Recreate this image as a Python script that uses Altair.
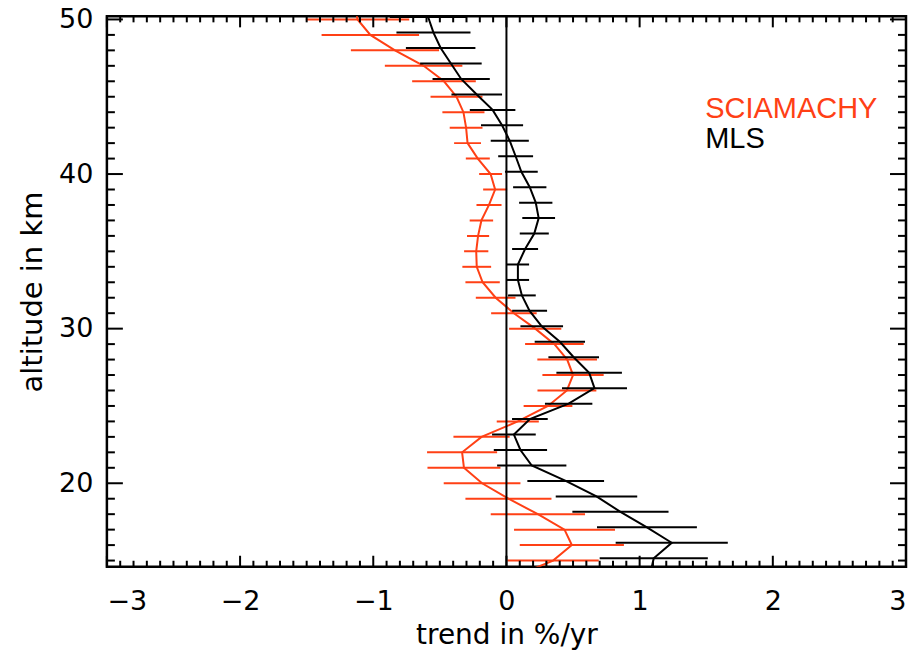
import altair as alt
import numpy as np
import pandas as pd

# ---------------- data ----------------
sci_alt = [51, 50, 49, 48, 47, 46, 45, 44, 43, 42, 41, 40, 39, 38, 37, 36, 35, 34, 33, 32,
           31, 30, 29, 28, 27, 26, 25, 24, 23, 22, 21, 20, 19, 18, 17, 16, 15, 14]
sci_trend = [-1.14, -1.118, -1.022, -0.837, -0.622, -0.469, -0.375, -0.323, -0.303, -0.292,
             -0.215, -0.119, -0.085, -0.131, -0.188, -0.213, -0.227, -0.223, -0.179, -0.081,
             0.056, 0.216, 0.36, 0.456, 0.5, 0.454, 0.312, 0.085, -0.187, -0.333,
             -0.319, -0.183, 0.015, 0.236, 0.436, 0.491, 0.35, 0.07]
sci_err = [0.39, 0.388, 0.366, 0.331, 0.291, 0.239, 0.195, 0.158, 0.123, 0.101,
           0.09, 0.086, 0.09, 0.094, 0.088, 0.083, 0.091, 0.108, 0.129, 0.149,
           0.171, 0.196, 0.22, 0.224, 0.23, 0.221, 0.183, 0.158, 0.211, 0.263,
           0.274, 0.288, 0.323, 0.354, 0.379, 0.391, 0.343, 0.34]

mls_alt = [51.15, 50.15, 49.15, 48.15, 47.15, 46.15, 45.15, 44.15, 43.15, 42.15, 41.15,
           40.15, 39.15, 38.15, 37.15, 36.15, 35.15, 34.15, 33.15, 32.15, 31.15, 30.15,
           29.15, 28.15, 27.15, 26.15, 25.15, 24.15, 23.15, 22.15, 21.15, 20.15, 19.15,
           18.15, 17.15, 16.15, 15.15, 14.15]
mls_trend = [-0.6, -0.588, -0.548, -0.494, -0.417, -0.340, -0.223, -0.104, -0.033, 0.025,
             0.069, 0.112, 0.175, 0.22, 0.242, 0.209, 0.14, 0.086, 0.086, 0.116,
             0.174, 0.265, 0.401, 0.505, 0.621, 0.661, 0.467, 0.176, 0.056, 0.105,
             0.19, 0.445, 0.676, 0.856, 1.055, 1.241, 1.106, 1.08]
mls_err = [0.29, 0.288, 0.278, 0.261, 0.231, 0.215, 0.19, 0.171, 0.158, 0.143,
           0.131, 0.123, 0.125, 0.125, 0.123, 0.109, 0.0975, 0.084, 0.084, 0.104,
           0.131, 0.16, 0.189, 0.19, 0.246, 0.244, 0.178, 0.134, 0.164, 0.2,
           0.26, 0.288, 0.306, 0.361, 0.375, 0.421, 0.406, 0.4]

x_major = [-3, -2, -1, 0, 1, 2, 3]
y_major = [20, 30, 40, 50]
legend_labels = ["SCIAMACHY", "MLS"]

RED = "#ff4015"
FONT = "DejaVu Sans"
W, H = 800, 551
X_DOM = [-3, 3]
Y_DOM = [14.6, 50.2]

sci = pd.DataFrame({"alt": sci_alt, "trend": sci_trend, "err": sci_err})
sci["lo"] = sci.trend - sci.err
sci["hi"] = sci.trend + sci.err
mls = pd.DataFrame({"alt": mls_alt, "trend": mls_trend, "err": mls_err})
mls["lo"] = mls.trend - mls.err
mls["hi"] = mls.trend + mls.err

xs = alt.Scale(domain=X_DOM, nice=False, zero=False)
ys = alt.Scale(domain=Y_DOM, nice=False, zero=False)

x_axis = alt.Axis(values=x_major, title="trend in %/yr", format="d", labelPadding=22,
                  titlePadding=7, titleFontSize=28)
y_axis = alt.Axis(values=y_major, title="altitude in km", format="d", labelPadding=14,
                  titlePadding=11, titleFontSize=29)

def X(field):
    return alt.X(field, type="quantitative", scale=xs, axis=x_axis)

def Y(field):
    return alt.Y(field, type="quantitative", scale=ys, axis=y_axis)

def series(df, color):
    base = alt.Chart(df)
    bars = base.mark_rule(color=color, strokeWidth=2, clip=True).encode(
        x=X("lo"), x2="hi", y=Y("alt"))
    line = base.mark_line(color=color, strokeWidth=2, clip=True).encode(
        x=X("trend"), y=Y("alt"), order="alt:Q")
    return bars + line

sci_layer = series(sci, RED)
mls_layer = series(mls, "black")

zero = alt.Chart(pd.DataFrame({"x": [0]})).mark_rule(color="black", strokeWidth=2).encode(
    x=X("x"), y=alt.value(0), y2=alt.value(H))

# inward tick marks on all four sides
xt_major = pd.DataFrame({"v": x_major})
xt_minor = pd.DataFrame({"v": [v for v in np.round(np.arange(-3, 3.0001, 0.1), 1) if abs(v - round(v)) > 1e-6]})
yt_major = pd.DataFrame({"v": y_major})
yt_minor = pd.DataFrame({"v": [v for v in range(15, 51) if v % 10 != 0]})

def xticks(df, length):
    b = alt.Chart(df).mark_rule(color="black", strokeWidth=2)
    bottom = b.encode(x=X("v"), y=alt.value(H), y2=alt.value(H - length))
    top = b.encode(x=X("v"), y=alt.value(0), y2=alt.value(length))
    return bottom + top

def yticks(df, length):
    b = alt.Chart(df).mark_rule(color="black", strokeWidth=2)
    left = b.encode(y=Y("v"), x=alt.value(0), x2=alt.value(length))
    right = b.encode(y=Y("v"), x=alt.value(W), x2=alt.value(W - length))
    return left + right

ticks = xticks(xt_major, 11) + xticks(xt_minor, 6) + yticks(yt_major, 16) + yticks(yt_minor, 8)

leg1 = alt.Chart(pd.DataFrame({"t": [legend_labels[0]]})).mark_text(
    font="Liberation Sans", fontSize=29, align="left", baseline="alphabetic", color=RED
).encode(text="t:N", x=alt.value(599), y=alt.value(102))
leg2 = alt.Chart(pd.DataFrame({"t": [legend_labels[1]]})).mark_text(
    font="Liberation Sans", fontSize=29, align="left", baseline="alphabetic", color="black"
).encode(text="t:N", x=alt.value(599), y=alt.value(132))

chart = alt.layer(sci_layer, mls_layer, zero, ticks, leg1, leg2).properties(
    width=W, height=H,
    autosize=alt.AutoSizeParams(type="none"),
    padding={"left": 99, "top": 8, "right": 2, "bottom": 88},
).configure_view(stroke="black", strokeWidth=2.5).configure_axis(
    ticks=False, domain=False, grid=False,
    labelFont=FONT, labelFontSize=27, labelColor="black",
    titleFont=FONT, titleFontWeight="normal", titleColor="black",
)

chart.save("out.html", embed_options={"renderer": "svg", "actions": False})
